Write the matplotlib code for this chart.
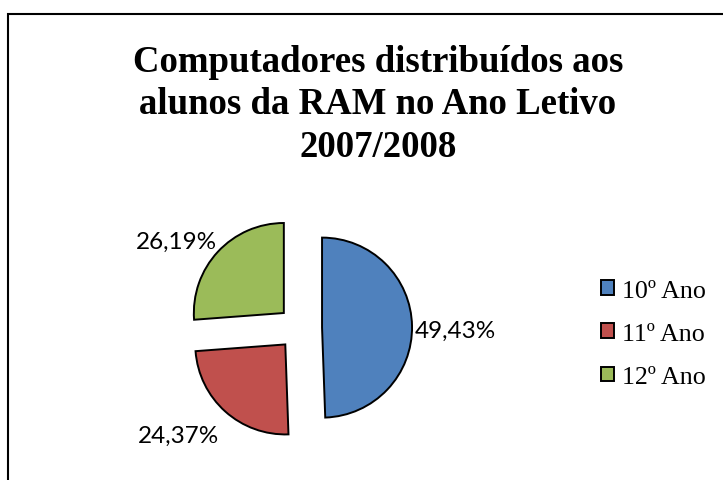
import matplotlib
matplotlib.use("Agg")
import matplotlib.pyplot as plt
import numpy as np
from matplotlib.patches import Rectangle

categories = ["10º Ano", "11º Ano", "12º Ano"]
values = [49.43, 24.37, 26.19]
pct_labels = ["49,43%", "24,37%", "26,19%"]
colors = ["#4F81BD", "#C0504D", "#9BBB59"]
title = "Computadores distribuídos aos\nalunos da RAM no Ano Letivo\n2007/2008"

# label offsets from each wedge's vertex, in radius units
label_offsets = [(1.48, -0.03), (-1.19, -1.01), (-1.19, 0.80)]

W, H = 723, 481
fig = plt.figure(figsize=(W / 100, H / 100), dpi=100)
fig.patch.set_facecolor("white")

# outer chart frame
fig.add_artist(Rectangle((8 / W, -0.1), 1.2, 1.1 - 15 / H, transform=fig.transFigure,
                         fill=False, edgecolor="black", linewidth=1.5))

cx, cy, half = 300, 329, 150
ax = fig.add_axes([(cx - half) / W, (H - cy - half) / H, 2 * half / W, 2 * half / H])
lim = half / 90
ax.set_aspect("equal")
ax.axis("off")

wedges, _ = ax.pie(values, colors=colors, startangle=90, counterclock=False,
                   explode=[0.245] * 3, radius=1,
                   wedgeprops=dict(edgecolor="black", linewidth=1.4))
ax.set_xlim(-lim, lim)
ax.set_ylim(-lim, lim)

for w, lab, (dx, dy) in zip(wedges, pct_labels, label_offsets):
    x0, y0 = w.center
    ax.text(x0 + dx, y0 + dy, lab, ha="center", va="center",
            fontsize=17.5, family="Lato", color="black")

fig.text(378 / W, 1 - 105 / H, title, ha="center", va="center",
         fontsize=26.5, fontweight="bold", family="Liberation Serif",
         linespacing=1.29)

leg = fig.legend(wedges, categories, loc="center left",
                 bbox_to_anchor=(601 / W, 1 - 335 / H), frameon=False,
                 prop=dict(family="Liberation Serif", size=18.7),
                 handlelength=0.5, handleheight=0.5, handletextpad=0.3,
                 labelspacing=0.82, borderpad=0, borderaxespad=0)

fig.savefig("out.png", dpi=100)
